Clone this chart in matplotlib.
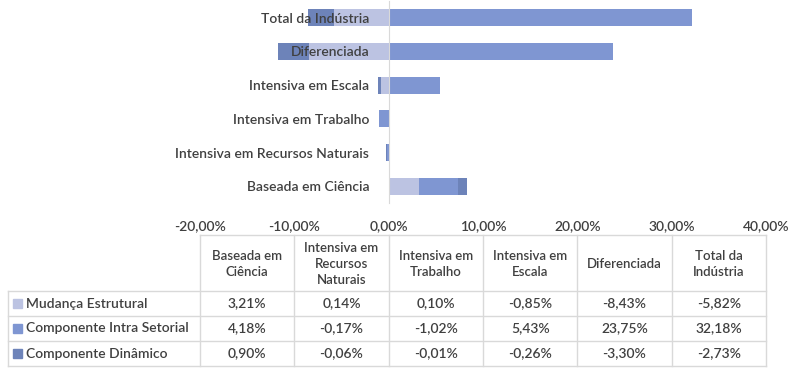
import numpy as np
import matplotlib.pyplot as plt

categories = ['Baseada em Ciência', 'Intensiva em Recursos Naturais', 'Intensiva em Trabalho',
              'Intensiva em Escala', 'Diferenciada', 'Total da Indústria']
headers = ['Baseada em\nCiência', 'Intensiva em\nRecursos\nNaturais', 'Intensiva em\nTrabalho',
           'Intensiva em\nEscala', 'Diferenciada', 'Total da\nIndústria']
series_names = ['Mudança Estrutural', 'Componente Intra Setorial', 'Componente Dinâmico']
mudanca = [3.21, 0.14, 0.10, -0.85, -8.43, -5.82]
intra = [4.18, -0.17, -1.02, 5.43, 23.75, 32.18]
dinamico = [0.90, -0.06, -0.01, -0.26, -3.30, -2.73]
colors = ['#bcc3e2', '#7f96d2', '#6d83b9']
xticks = [-20, -10, 0, 10, 20, 30, 40]

plt.rcParams['font.family'] = ['Lato', 'DejaVu Sans']
plt.rcParams['font.weight'] = 'semibold'
txt = '#404040'
grid_c = '#d9d9d9'

W, H = 798, 376
fig = plt.figure(figsize=(W / 100, H / 100), dpi=100)

# main bar axes (pixel box)
L, R, T, B = 200, 766, 1, 203
ax = fig.add_axes([L / W, 1 - B / H, (R - L) / W, (B - T) / H])
y = np.arange(len(categories))
pos_base = np.zeros(len(categories))
neg_base = np.zeros(len(categories))
for vals, c in zip([mudanca, intra, dinamico], colors):
    vals = np.array(vals)
    left = np.where(vals >= 0, pos_base, neg_base)
    ax.barh(y, vals, left=left, height=0.5, color=c, zorder=1)
    pos_base += np.where(vals >= 0, vals, 0)
    neg_base += np.where(vals < 0, vals, 0)

ax.set_xlim(-20, 40)
ax.set_ylim(-0.5, len(categories) - 0.5)
for s in ['top', 'right', 'bottom']:
    ax.spines[s].set_visible(False)
ax.spines['left'].set_position(('data', 0))
ax.spines['left'].set_color(grid_c)
ax.set_yticks(y)
ax.set_yticklabels(categories, fontsize=10, color=txt)
ax.tick_params(axis='y', length=0, pad=14)
ax.set_xticks(xticks)
ax.set_xticklabels([('%.2f%%' % v).replace('.', ',') for v in xticks], fontsize=10, color=txt)
ax.tick_params(axis='x', length=0, pad=12)
ax.patch.set_alpha(0)

# data table in pixel coordinates
tx = fig.add_axes([0, 0, 1, 1])
tx.set_xlim(0, W)
tx.set_ylim(H, 0)
tx.axis('off')
cols = [L + (v + 20) / 60 * (R - L) for v in xticks]
top, hdr = 235, 291
rows = [hdr, 316, 341, 366]
lx = 8
kw = dict(color=grid_c, lw=1)
tx.plot([cols[0], cols[-1]], [top, top], **kw)
for yy in rows:
    tx.plot([lx, cols[-1]], [yy, yy], **kw)
for xx in cols:
    tx.plot([xx, xx], [top, rows[-1]], **kw)
tx.plot([lx, lx], [hdr, rows[-1]], **kw)

for i, h in enumerate(headers):
    cx = (cols[i] + cols[i + 1]) / 2
    tx.text(cx, (top + hdr) / 2 + 1, h, ha='center', va='center', fontsize=9.5,
            color=txt, linespacing=1.45)

for r, (name, vals, c) in enumerate(zip(series_names, [mudanca, intra, dinamico], colors)):
    cy = (rows[r] + rows[r + 1]) / 2
    tx.add_patch(plt.Rectangle((13, cy - 4.5), 9, 9, color=c))
    tx.text(26, cy, name, ha='left', va='center', fontsize=10, color=txt)
    for i, v in enumerate(vals):
        cx = (cols[i] + cols[i + 1]) / 2
        tx.text(cx, cy, ('%.2f%%' % v).replace('.', ','), ha='center', va='center',
                fontsize=10, color=txt)

fig.savefig('out.png', dpi=100)
